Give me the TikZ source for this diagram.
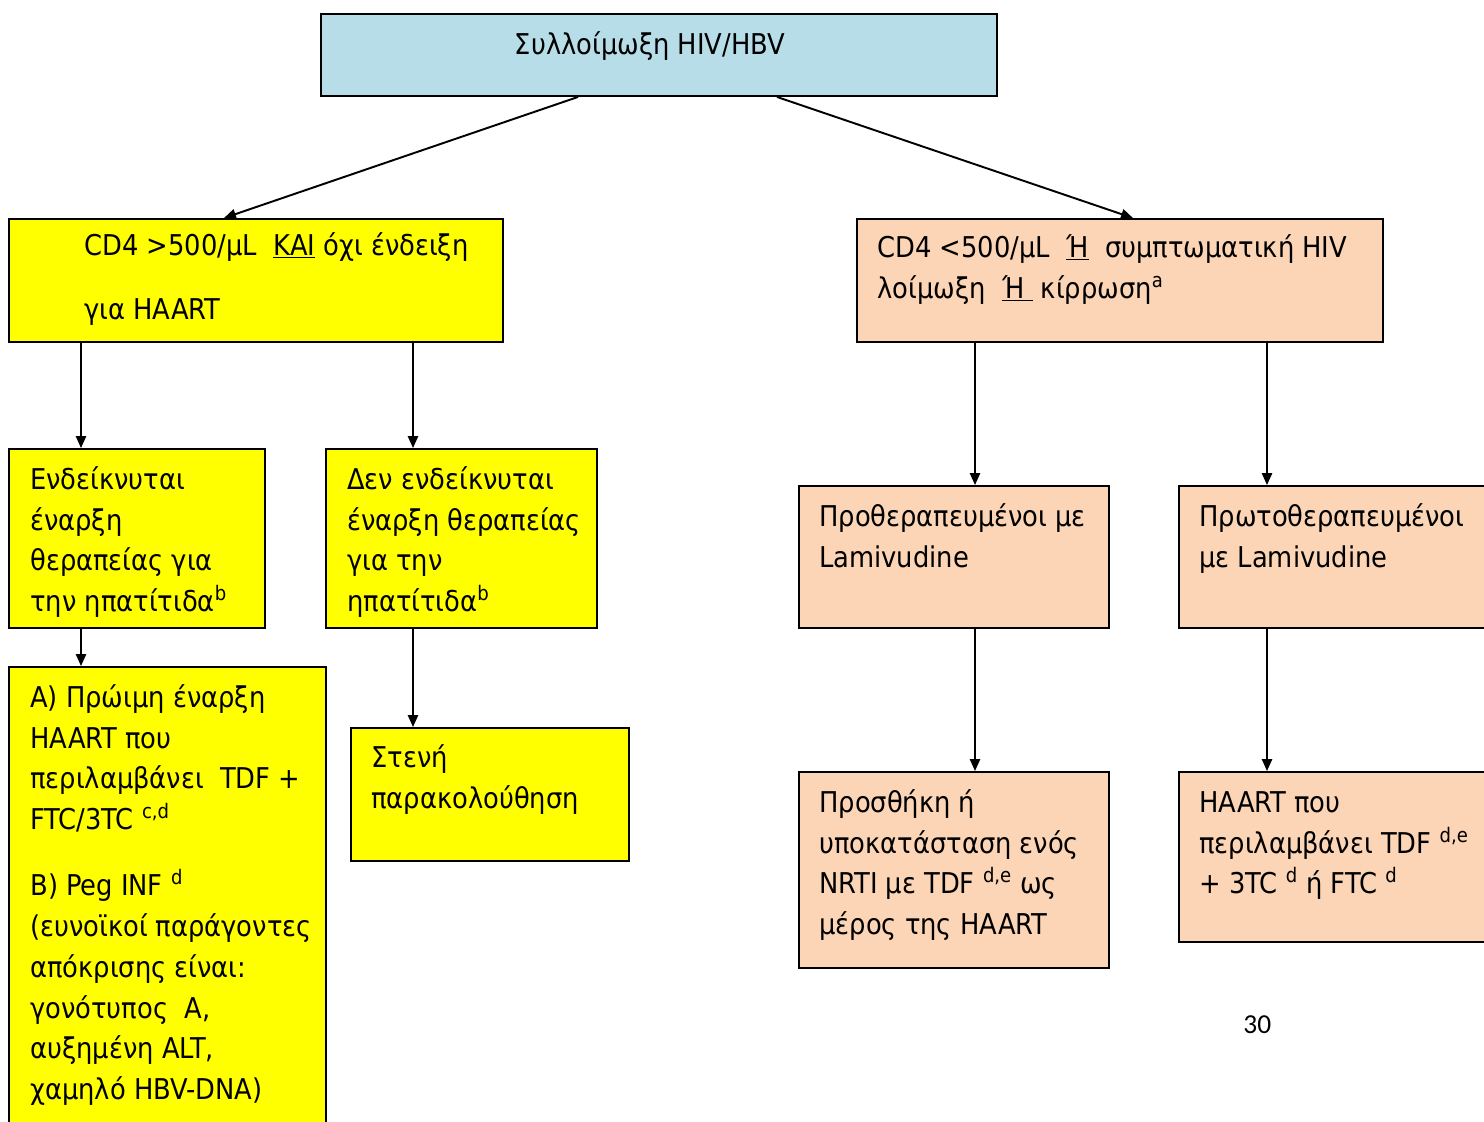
\documentclass[tikz,border=0pt]{standalone}
\usepackage{fontspec}
\setmainfont{DejaVu Sans Condensed}
\newfontfamily\numfont{Carlito}
\usetikzlibrary{arrows.meta,fit}

\definecolor{hdrblue}{HTML}{B7DEE8}
\definecolor{boxyellow}{HTML}{FFFF00}
\definecolor{boxpeach}{HTML}{FBD5B5}
\newcommand\bodyfont{\fontsize{16.3pt}{23.24pt}\selectfont}

\begin{document}
\begin{tikzpicture}[x=0.02cm,y=-0.02cm,
  box/.style={draw=black, line width=1.1pt, inner sep=0pt},
  txt/.style={anchor=north west, inner sep=0pt, align=left, font=\bodyfont},
  arr/.style={line width=1.1pt, -{Triangle[length=6.8pt,width=5.8pt]}}]

\useasboundingbox (0,0) rectangle (1484,1122);
\fill[white] (0,0) rectangle (1484,1122);
\clip (0,0) rectangle (1484,1122);

% boxes
\node[box, fill=hdrblue, fit={(321,14) (997,96)}] (top) {};
\node[box, fill=boxyellow, fit={(9,219) (503,342)}] (L1) {};
\node[box, fill=boxpeach, fit={(857,219) (1383,342)}] (R1) {};
\node[box, fill=boxyellow, fit={(9,449) (265,628)}] (L2a) {};
\node[box, fill=boxyellow, fit={(326,449) (597,628)}] (L2b) {};
\node[box, fill=boxyellow, fit={(9,667) (326,1140)}] (L3a) {};
\node[box, fill=boxyellow, fit={(351,728) (629,861)}] (L3b) {};
\node[box, fill=boxpeach, fit={(799,486) (1109,628)}] (R2a) {};
\node[box, fill=boxpeach, fit={(1179,486) (1500,628)}] (R2b) {};
\node[box, fill=boxpeach, fit={(799,772) (1109,968)}] (R3a) {};
\node[box, fill=boxpeach, fit={(1179,772) (1500,942)}] (R3b) {};

% texts
\node[txt, anchor=base] (top-t) at (650,55) {Συλλοίμωξη HIV/HBV};
\node[txt] (L1-t) at (84,226.3) {\strut CD4 >500/μL\ \ \underline{ΚΑΙ} όχι ένδειξη\\[13.6pt]για HAART};
\node[txt] (R1-t) at (877,228.3) {\strut CD4 <500/μL\ \ \underline{Ή}\ \ συμπτωματική HIV\\λοίμωξη\ \ \underline{Ή\ } κίρρωση\textsuperscript{a}};
\node[txt] (L2a-t) at (30,460.3) {\strut Ενδείκνυται\\έναρξη\\θεραπείας για\\την ηπατίτιδα\textsuperscript{b}};
\node[txt] (L2b-t) at (347,460.3) {\strut Δεν ενδείκνυται\\έναρξη θεραπείας\\για την\\ηπατίτιδα\textsuperscript{b}};
\node[txt] (L3a-t) at (30,678.3) {\strut A) Πρώιμη έναρξη\\HAART που\\περιλαμβάνει\ \ TDF +\\FTC/3TC \textsuperscript{c,d}\\[14.2pt]
  B) Peg INF \textsuperscript{d}\\(ευνοϊκοί παράγοντες\\απόκρισης είναι:\\γονότυπος\ \ A,\\αυξημένη ALT,\\χαμηλό HBV-DNA)};
\node[txt] (L3b-t) at (371,738.3) {\strut Στενή\\παρακολούθηση};
\node[txt] (R2a-t) at (819,497.3) {\strut Προθεραπευμένοι με\\Lamivudine};
\node[txt] (R2b-t) at (1199,497.3) {\strut Πρωτοθεραπευμένοι\\με Lamivudine};
\node[txt] (R3a-t) at (819,783.3) {\strut Προσθήκη ή\\υποκατάσταση ενός\\NRTI με TDF \textsuperscript{d,e} ως\\μέρος της HAART};
\node[txt] (R3b-t) at (1199,783.3) {\strut HAART που\\περιλαμβάνει TDF \textsuperscript{d,e}\\+ 3TC \textsuperscript{d} ή FTC \textsuperscript{d}};

% page number
\node[anchor=base west, inner sep=0pt, font=\numfont\fontsize{15.6pt}{18pt}\selectfont] (pg) at (1243,1033) {30};

% connectors
\draw[arr] (top.south -| 578,0) -- (L1.north -| 224,0);
\draw[arr] (top.south -| 777,0) -- (R1.north -| 1133,0);
\draw[arr] (L1.south -| 81,0) -- (L2a.north -| 81,0);
\draw[arr] (L1.south -| 413,0) -- (L2b.north -| 413,0);
\draw[arr] (L2a.south -| 81,0) -- (L3a.north -| 81,0);
\draw[arr] (L2b.south -| 413,0) -- (L3b.north -| 413,0);
\draw[arr] (R1.south -| 975,0) -- (R2a.north -| 975,0);
\draw[arr] (R1.south -| 1267,0) -- (R2b.north -| 1267,0);
\draw[arr] (R2a.south -| 975,0) -- (R3a.north -| 975,0);
\draw[arr] (R2b.south -| 1267,0) -- (R3b.north -| 1267,0);
\end{tikzpicture}
\end{document}
